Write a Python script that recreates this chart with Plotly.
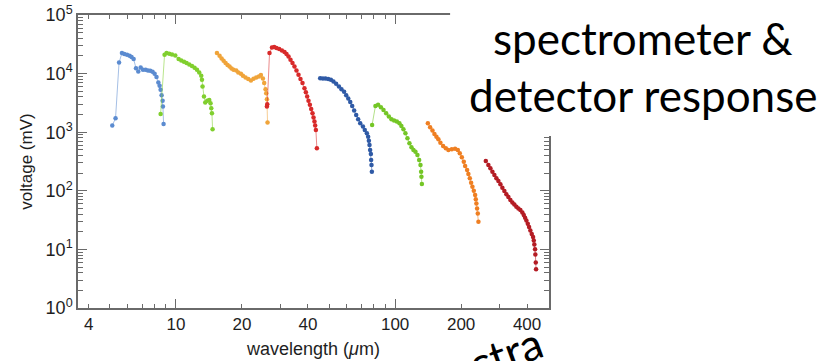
import plotly.graph_objects as go

# ---- data (wavelength in um, voltage in mV) ----
wl_b1 = [5.12, 5.30, 5.50, 5.67, 5.81, 5.98, 6.14, 6.27, 6.41, 6.57, 6.73, 6.90, 7.07, 7.27, 7.45, 7.63, 7.82, 7.99, 8.15, 8.31, 8.42, 8.51, 8.60, 8.69, 8.72, 8.78]
v_b1 = [1295, 1733, 15460, 22400, 21500, 20950, 20140, 19140, 17690, 12400, 10860, 12700, 11610, 11610, 11290, 11160, 10720, 9910, 8710, 7040, 6180, 5280, 4290, 3430, 2740, 1384]

wl_g1 = [8.51, 8.87, 9.06, 9.32, 9.59, 9.93, 10.28, 10.57, 10.88, 11.18, 11.50, 11.83, 12.16, 12.47, 12.77, 13.04, 13.14, 13.22, 13.42, 13.60, 13.89, 14.19, 14.38, 14.49, 14.59, 14.69]
v_g1 = [2052, 20950, 22400, 21800, 21200, 20370, 17690, 16740, 15900, 15100, 14300, 13430, 12560, 11610, 10430, 9160, 7830, 6010, 4060, 3200, 3430, 3560, 3130, 2570, 2110, 1124]

wl_o1 = [15.38, 15.81, 16.15, 16.49, 16.84, 17.19, 17.56, 17.93, 18.31, 18.84, 19.24, 19.79, 20.21, 20.77, 21.37, 21.98, 22.59, 23.24, 23.90, 24.41, 24.93, 25.27, 25.62, 25.81, 26.00, 26.17]
v_o1 = [22400, 20140, 18110, 16530, 15100, 13960, 13210, 12210, 11610, 11290, 10430, 9910, 9160, 8570, 8050, 7620, 8140, 8570, 8910, 9420, 8240, 6880, 5430, 4640, 3660, 1457]

wl_r1 = [26.00, 26.09, 26.72, 27.41, 28.07, 28.75, 29.58, 30.44, 31.28, 31.94, 32.62, 33.31, 34.01, 34.73, 35.47, 36.23, 36.99, 37.78, 38.58, 39.15, 39.69, 40.24, 40.83, 41.40, 41.97, 42.42, 42.85, 43.17, 43.49, 43.95]
v_r1 = [2736, 3006, 22400, 27930, 28380, 27290, 26240, 24820, 23290, 21540, 19600, 17200, 15100, 13210, 11290, 9530, 8050, 6880, 5650, 4820, 4060, 3430, 2930, 2500, 2110, 1775, 1517, 1295, 1093, 532]

wl_b2 = [45.5, 46.8, 48.1, 49.5, 50.9, 52.3, 53.8, 55.4, 56.9, 58.5, 59.8, 61.1, 62.4, 63.7, 65.0, 66.4, 67.8, 69.3, 71.3, 72.7, 74.3, 75.3, 75.9, 76.4, 76.9, 77.5, 77.7, 78.0, 78.3]
v_b2 = [8370, 8240, 8240, 8050, 7830, 7330, 6690, 6010, 5430, 4880, 4290, 3750, 3290, 2810, 2340, 1973, 1666, 1423, 1245, 1093, 960, 840, 718, 606, 497, 425, 336, 275, 212]

wl_g2 = [78.5, 81.3, 83.6, 86.1, 88.5, 91.0, 93.6, 96.2, 98.9, 101.8, 104.6, 106.8, 109.1, 111.4, 113.8, 116.2, 118.7, 121.2, 123.8, 126.4, 128.7, 130.5, 131.4, 131.8, 132.4]
v_g2 = [1331, 2810, 2930, 2670, 2400, 2110, 1845, 1666, 1577, 1517, 1423, 1280, 1124, 960, 788, 648, 553, 497, 465, 408, 336, 275, 212, 174, 130]

wl_o2 = [141.0, 144.4, 148.0, 151.1, 154.3, 157.5, 160.9, 165.5, 170.3, 175.0, 181.4, 187.7, 193.2, 197.2, 201.5, 205.7, 208.6, 213.0, 215.9, 219.1, 222.2, 225.2, 228.5, 231.7, 233.3, 234.8, 236.6, 238.3, 239.9]
v_o2 = [1423, 1216, 1064, 934, 840, 758, 663, 582, 532, 497, 511, 523, 497, 437, 373, 314, 265, 226, 193, 163, 137, 117, 100, 84.6, 71.4, 61.0, 50.1, 41.1, 29.6]

wl_r2 = [259.2, 266.3, 272.0, 277.8, 283.7, 289.7, 295.9, 302.2, 308.5, 315.1, 321.7, 328.6, 335.6, 342.7, 349.9, 357.3, 365.0, 372.7, 380.6, 386.3, 391.6, 397.0, 402.9, 408.3, 414.0, 420.1, 425.9, 429.0, 431.7, 434.9, 436.3, 438.1, 439.5]
v_r2 = [322.6, 275.5, 242, 211.6, 185.8, 163.2, 146.8, 128.9, 112.7, 99.0, 86.9, 78.2, 69.5, 63.4, 58.6, 53.3, 50.1, 46.9, 42.8, 38.5, 34.6, 31.2, 27.3, 24.0, 21.1, 18.4, 16.2, 14.2, 12.1, 10.1, 8.19, 5.98, 4.59]

x_ticks = [4, 10, 20, 40, 100, 200, 400]
x_ticklabels = ["4", "10", "20", "40", "100", "200", "400"]
y_ticks = [1, 10, 100, 1000, 10000, 100000]
y_ticklabels = ["10<sup>0</sup>", "10<sup>1</sup>", "10<sup>2</sup>", "10<sup>3</sup>", "10<sup>4</sup>", "10<sup>5</sup>"]

segments = [
    (wl_b1, v_b1, "#5b8bd0"),
    (wl_g1, v_g1, "#80cf2e"),
    (wl_o1, v_o1, "#f0a43a"),
    (wl_r1, v_r1, "#d82a2a"),
    (wl_b2, v_b2, "#2f5aa6"),
    (wl_g2, v_g2, "#74c626"),
    (wl_o2, v_o2, "#ef7f22"),
    (wl_r2, v_r2, "#b41c24"),
]

def rgba(hexc, a):
    h = hexc.lstrip("#")
    r, g, b = int(h[0:2], 16), int(h[2:4], 16), int(h[4:6], 16)
    return f"rgba({r},{g},{b},{a})"

fig = go.Figure()
for wl, v, c in segments:
    fig.add_trace(go.Scatter(
        x=wl, y=v, mode="lines+markers",
        line=dict(color=rgba(c, 0.55), width=1),
        marker=dict(color=c, size=4.5, line=dict(width=0)),
        showlegend=False, xaxis="x", yaxis="y",
    ))

# minor tick positions (multiples 2..9 of decades)
x_minor = [m * d for d in (1, 10, 100) for m in range(2, 10) if m * d not in x_ticks and 3.5 < m * d < 505]
y_minor = [m * d for d in (1, 10, 100, 1000, 10000) for m in range(2, 10)]

axis_col = "#6a6a6a"
font_fam = "Liberation Sans, Arial, sans-serif"
txt_col = "#1e1e1e"
xr = [0.553, 2.702]
yr = [0, 5]

fig.update_layout(
    width=840, height=361,
    margin=dict(l=78, r=291, t=15, b=53),
    paper_bgcolor="white", plot_bgcolor="white",
    font=dict(family=font_fam, color=txt_col, size=17),
    xaxis=dict(
        type="log", range=xr, showgrid=False, zeroline=False, automargin=False,
        showline=True, linecolor=axis_col, linewidth=1.5, mirror="ticks",
        ticks="inside", ticklen=4, tickwidth=1, tickcolor=axis_col,
        tickvals=x_ticks, ticktext=x_ticklabels,
        tickfont=dict(size=17, family=font_fam, color=txt_col),
        minor=dict(tickvals=x_minor, ticks="inside", ticklen=4, tickwidth=1, tickcolor=axis_col, showgrid=False),
        title=dict(text="wavelength (<i>μ</i>m)", font=dict(size=18, family=font_fam, color=txt_col), standoff=9),
    ),
    xaxis2=dict(
        type="log", range=xr, overlaying="x", side="bottom", showgrid=False, zeroline=False, automargin=False,
        showline=False, mirror="ticks", ticks="inside", ticklen=9, tickwidth=1.2, tickcolor=axis_col,
        tickvals=[10, 100], showticklabels=False,
    ),
    yaxis=dict(
        type="log", range=yr, showgrid=False, zeroline=False, automargin=False,
        showline=True, linecolor=axis_col, linewidth=1.5, mirror="ticks",
        ticks="inside", ticklen=9, tickwidth=1.2, tickcolor=axis_col,
        tickvals=y_ticks, ticktext=y_ticklabels,
        tickfont=dict(size=18, family=font_fam, color=txt_col),
        minor=dict(tickvals=y_minor, ticks="inside", ticklen=5, tickwidth=1, tickcolor=axis_col, showgrid=False),
        title=dict(text="voltage (mV)", font=dict(size=17, family=font_fam, color=txt_col), standoff=9),
    ),
)

# dummy trace so xaxis2 is drawn
fig.add_trace(go.Scatter(x=[10], y=[1], xaxis="x2", yaxis="y", mode="markers",
                         marker=dict(opacity=0), showlegend=False, hoverinfo="skip"))

# white text box covering the top-right corner of the chart
fig.add_shape(type="rect", xref="paper", yref="paper", x0=0.790, x1=1.8, y0=0.587, y1=1.2,
              fillcolor="white", line=dict(width=0), layer="above")

big_font = dict(family="Lato, Open Sans, sans-serif", size=44, color="black")
fig.add_annotation(text="spectrometer &", xref="paper", yref="paper", x=1.1995, y=0.921,
                   showarrow=False, font=big_font, xanchor="center", yanchor="middle")
fig.add_annotation(text="detector response", xref="paper", yref="paper", x=1.1995, y=0.727,
                   showarrow=False, font=big_font, xanchor="center", yanchor="middle")
fig.add_annotation(text="spectra", xref="paper", yref="paper", x=0.840, y=-0.190,
                   showarrow=False, font=big_font, textangle=-20, xanchor="center", yanchor="middle")

fig.write_html("out.html")
